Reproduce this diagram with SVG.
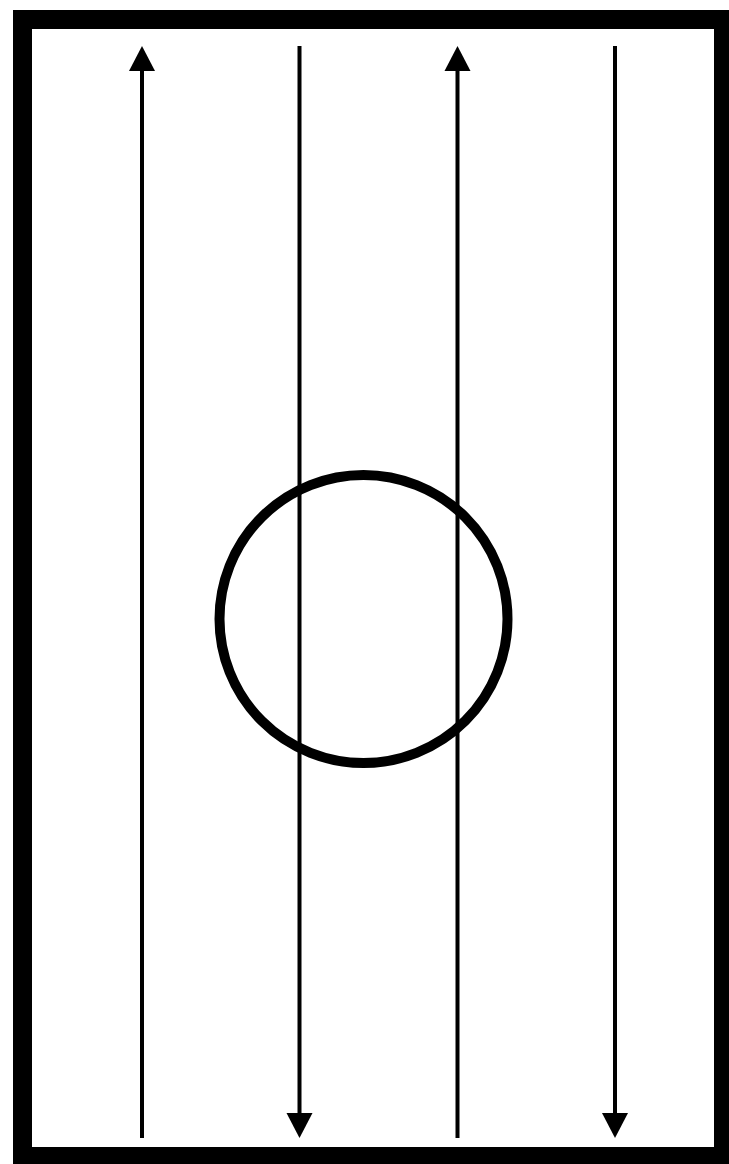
<svg xmlns="http://www.w3.org/2000/svg" width="729" height="1164" viewBox="0 0 729 1164">
<defs>
<style>
.frame{fill:none;stroke:#000;stroke-width:19}
.flow{stroke:#000;stroke-width:4;fill:none;marker-end:url(#ah)}
.body{fill:none;stroke:#000;stroke-width:10}
</style>
<marker id="ah" markerUnits="userSpaceOnUse" markerWidth="26" markerHeight="26" viewBox="0 0 26 26" refX="0" refY="13" orient="auto" overflow="visible">
<polygon points="0,0 25,13 0,26" fill="#000"/>
</marker>
</defs>
<rect width="729" height="1164" fill="#fff"/>
<g id="frame"><rect class="frame" x="22.5" y="19.5" width="701" height="1137"/></g>
<g id="connectors">
<line class="flow" x1="142" y1="1138" x2="142" y2="71"/>
<line class="flow" x1="299.5" y1="46" x2="299.5" y2="1113"/>
<line class="flow" x1="457.5" y1="1138" x2="457.5" y2="71"/>
<line class="flow" x1="615" y1="46" x2="615" y2="1113"/>
</g>
<g id="body"><circle class="body" cx="363.5" cy="619" r="144"/></g>
</svg>
